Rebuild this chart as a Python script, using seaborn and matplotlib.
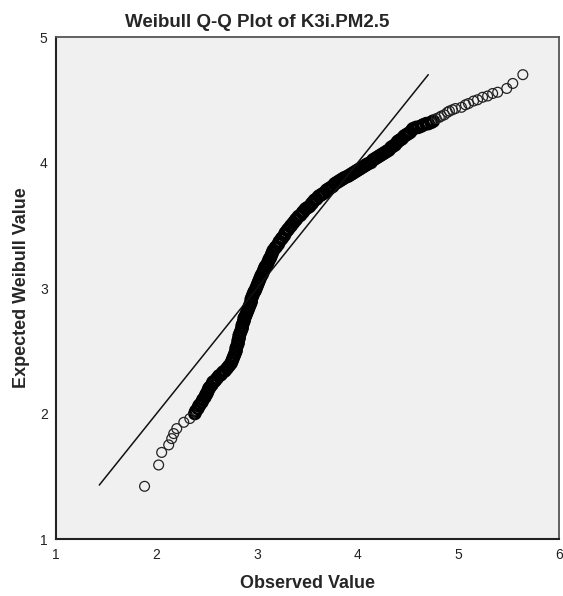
import matplotlib
matplotlib.use("Agg")
import matplotlib.pyplot as plt
import seaborn as sns
import pandas as pd

# Observed / expected pairs (lower tail, dense body, upper tail)
tail_low = [(1.88, 1.42), (2.02, 1.59), (2.05, 1.69), (2.12, 1.75), (2.15, 1.80),
            (2.17, 1.84), (2.20, 1.88), (2.27, 1.93), (2.33, 1.96)]

body = [(2.38, 2.00), (2.39, 2.02), (2.41, 2.04), (2.42, 2.06), (2.43, 2.07), (2.45, 2.09),
        (2.46, 2.11), (2.48, 2.13), (2.49, 2.15), (2.50, 2.16), (2.51, 2.18), (2.52, 2.20),
        (2.53, 2.21), (2.55, 2.23), (2.56, 2.25), (2.58, 2.26), (2.60, 2.28), (2.62, 2.30),
        (2.64, 2.31), (2.66, 2.33), (2.68, 2.34), (2.70, 2.36), (2.72, 2.38), (2.74, 2.40),
        (2.75, 2.42), (2.76, 2.44), (2.77, 2.46), (2.78, 2.48), (2.79, 2.50), (2.79, 2.52),
        (2.80, 2.54), (2.81, 2.56), (2.81, 2.58), (2.82, 2.60),
        (2.82, 2.62), (2.83, 2.64), (2.84, 2.66), (2.85, 2.68), (2.85, 2.70), (2.86, 2.72),
        (2.87, 2.74), (2.87, 2.76), (2.88, 2.77), (2.89, 2.79), (2.90, 2.81), (2.91, 2.83),
        (2.92, 2.85), (2.93, 2.87), (2.94, 2.89), (2.94, 2.91), (2.95, 2.93), (2.96, 2.95),
        (2.97, 2.97), (2.98, 2.98), (2.99, 3.00), (3.00, 3.02), (3.01, 3.04), (3.02, 3.06),
        (3.03, 3.08), (3.04, 3.10), (3.05, 3.11), (3.06, 3.13), (3.07, 3.15), (3.08, 3.17),
        (3.10, 3.19), (3.11, 3.21), (3.12, 3.23), (3.13, 3.24), (3.14, 3.26), (3.15, 3.28),
        (3.16, 3.30), (3.18, 3.32), (3.19, 3.33), (3.21, 3.35), (3.22, 3.37), (3.24, 3.39),
        (3.25, 3.40), (3.27, 3.42), (3.28, 3.44), (3.30, 3.46), (3.31, 3.47), (3.33, 3.49),
        (3.34, 3.50), (3.36, 3.52), (3.38, 3.54), (3.39, 3.55), (3.41, 3.57), (3.43, 3.58),
        (3.45, 3.60), (3.46, 3.61), (3.48, 3.63), (3.50, 3.64), (3.52, 3.65), (3.54, 3.67),
        (3.55, 3.68), (3.57, 3.70), (3.59, 3.71), (3.61, 3.73), (3.63, 3.74), (3.65, 3.75),
        (3.67, 3.76), (3.69, 3.78), (3.71, 3.79), (3.73, 3.80), (3.75, 3.81), (3.77, 3.83),
        (3.79, 3.84), (3.81, 3.85), (3.83, 3.86), (3.85, 3.87), (3.87, 3.88), (3.90, 3.89),
        (3.92, 3.90), (3.94, 3.91), (3.96, 3.92), (3.98, 3.93), (4.00, 3.94), (4.02, 3.95),
        (4.04, 3.96), (4.06, 3.97), (4.08, 3.98), (4.10, 3.99), (4.13, 4.00), (4.15, 4.02),
        (4.17, 4.03), (4.19, 4.04), (4.21, 4.05), (4.23, 4.06), (4.25, 4.07), (4.27, 4.08),
        (4.29, 4.09), (4.31, 4.10), (4.33, 4.12), (4.35, 4.13), (4.37, 4.14), (4.39, 4.16),
        (4.40, 4.17), (4.42, 4.18), (4.44, 4.19), (4.46, 4.21), (4.48, 4.22), (4.50, 4.23),
        (4.52, 4.24), (4.54, 4.26), (4.55, 4.27), (4.58, 4.28), (4.60, 4.28), (4.63, 4.29),
        (4.65, 4.30), (4.68, 4.31), (4.70, 4.31), (4.73, 4.32), (4.75, 4.33)]

# sparser run where single circles start to show through
body_end = [(4.78, 4.35), (4.81, 4.36), (4.83, 4.37), (4.86, 4.38), (4.89, 4.40),
            (4.91, 4.41), (4.94, 4.42), (4.97, 4.43)]

tail_high = [(5.03, 4.44), (5.07, 4.46), (5.10, 4.47), (5.15, 4.49), (5.19, 4.50),
             (5.24, 4.52), (5.29, 4.53), (5.34, 4.55), (5.39, 4.56), (5.48, 4.59),
             (5.54, 4.63), (5.64, 4.70)]

# reference line (expected = observed) over the range of expected values
ref_x = [1.43, 4.70]
ref_y = [1.43, 4.70]

x_ticks = [1, 2, 3, 4, 5, 6]
y_ticks = [1, 2, 3, 4, 5]

tails = pd.DataFrame(tail_low + body_end + tail_high, columns=["observed", "expected"])
dense = pd.DataFrame(body, columns=["observed", "expected"])

sns.set_style("white")
plt.rcParams["font.family"] = ["Liberation Sans", "DejaVu Sans"]

fig = plt.figure(figsize=(5.63, 5.96), dpi=100)
ax = fig.add_axes([0.0995, 0.0956, 0.8935, 0.8423])
ax.set_facecolor("#f0f0f0")

sns.lineplot(x=ref_x, y=ref_y, ax=ax, color="#111111", linewidth=1.1)
# the packed middle of the sample reads as a solid black band
sns.scatterplot(data=dense, x="observed", y="expected", ax=ax, marker="o",
                facecolors="none", edgecolor="#000000", linewidth=1.9, s=62)
sns.scatterplot(data=tails, x="observed", y="expected", ax=ax, marker="o",
                facecolors="none", edgecolor="#222222", linewidth=0.9, s=50)

ax.set_xlim(1, 6)
ax.set_ylim(1, 5)
ax.set_xticks(x_ticks)
ax.set_yticks(y_ticks)
ax.tick_params(axis="x", direction="out", length=6, width=1.2, color="#333333",
               labelsize=10, pad=0.5, labelcolor="#222222")
ax.tick_params(axis="y", direction="out", length=5, width=1.2, color="#333333",
               labelsize=10, pad=1, labelcolor="#222222")
for side in ["left", "bottom"]:
    ax.spines[side].set_color("#222222")
    ax.spines[side].set_linewidth(1.5)
for side in ["top", "right"]:
    ax.spines[side].set_color("#555555")
    ax.spines[side].set_linewidth(1.3)

ax.set_xlabel("Observed Value", fontsize=13, fontweight="bold", labelpad=9)
ax.set_ylabel("Expected Weibull Value", fontsize=13, fontweight="bold", labelpad=7)
fig.text(0.456, 0.963, "Weibull Q-Q Plot of K3i.PM2.5", fontsize=13.5,
         fontweight="bold", ha="center", va="center")

fig.savefig("out.png", dpi=100)
